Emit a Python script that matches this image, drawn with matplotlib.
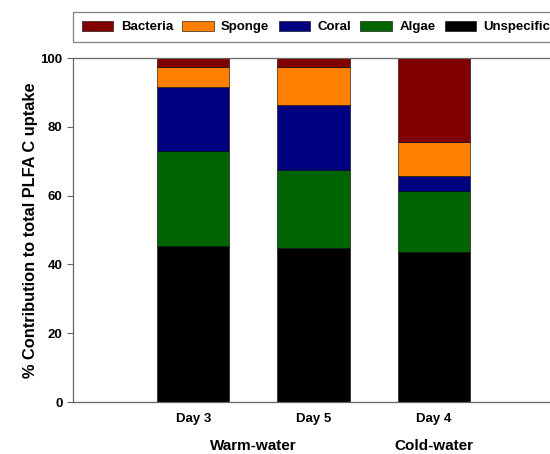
import numpy as np
import matplotlib.pyplot as plt

plt.rcParams['font.family'] = ['Liberation Sans', 'DejaVu Sans']
plt.rcParams['font.weight'] = 'bold'

days = ['Day 3', 'Day 5', 'Day 4']
groups = ['Warm-water', 'Cold-water']
group_pos = [1.5, 3.0]
categories = ['Unspecific', 'Algae', 'Coral', 'Sponge', 'Bacteria']
colors = ['#000000', '#006400', '#000080', '#ff8000', '#800000']

unspecific = [45.3, 44.8, 43.6]
algae = [27.7, 22.6, 17.8]
coral = [18.6, 19.1, 4.3]
sponge = [5.7, 10.8, 9.8]
bacteria = [2.7, 2.7, 24.5]
series = [unspecific, algae, coral, sponge, bacteria]

fig = plt.figure(figsize=(5.5, 4.54), dpi=100)
ax = fig.add_axes([0.133, 0.1145, 0.874, 0.7575])

x = np.arange(1, len(days) + 1)
bottom = np.zeros(len(days))
handles = {}
for name, vals, c in zip(categories, series, colors):
    b = ax.bar(x, vals, 0.6, bottom=bottom, color=c, edgecolor='black', linewidth=0.4, label=name)
    handles[name] = b
    bottom += np.array(vals)

ax.set_xlim(0, 4)
ax.set_ylim(0, 100)
ax.set_yticks(np.arange(0, 101, 20))
ax.set_xticks(x)
ax.set_xticklabels(days, fontsize=9.5, fontweight='bold')
ax.tick_params(axis='x', length=0, pad=8)
ax.tick_params(axis='y', labelsize=9.5, length=4, color='#666666')
for s in ax.spines.values():
    s.set_color('#666666')
    s.set_linewidth(0.9)
ax.set_ylabel('% Contribution to total PLFA C uptake', fontsize=11.8, fontweight='bold', labelpad=2)

for g, p in zip(groups, group_pos):
    ax.text(p, -12.8, g, ha='center', va='center', fontsize=11, fontweight='bold',
            transform=ax.transData)

order = ['Bacteria', 'Sponge', 'Coral', 'Algae', 'Unspecific']
leg = fig.legend([handles[n] for n in order], order, ncol=5,
                 loc='lower left', bbox_to_anchor=(0.133, 0.9075),
                 fontsize=9.5, frameon=True, fancybox=False, handlelength=2.4, handleheight=0.75,
                 columnspacing=0.7, handletextpad=0.55, borderpad=0.65, borderaxespad=0)
leg.get_frame().set_edgecolor('#666666')
leg.get_frame().set_linewidth(0.9)

fig.savefig('out.png', dpi=100)
